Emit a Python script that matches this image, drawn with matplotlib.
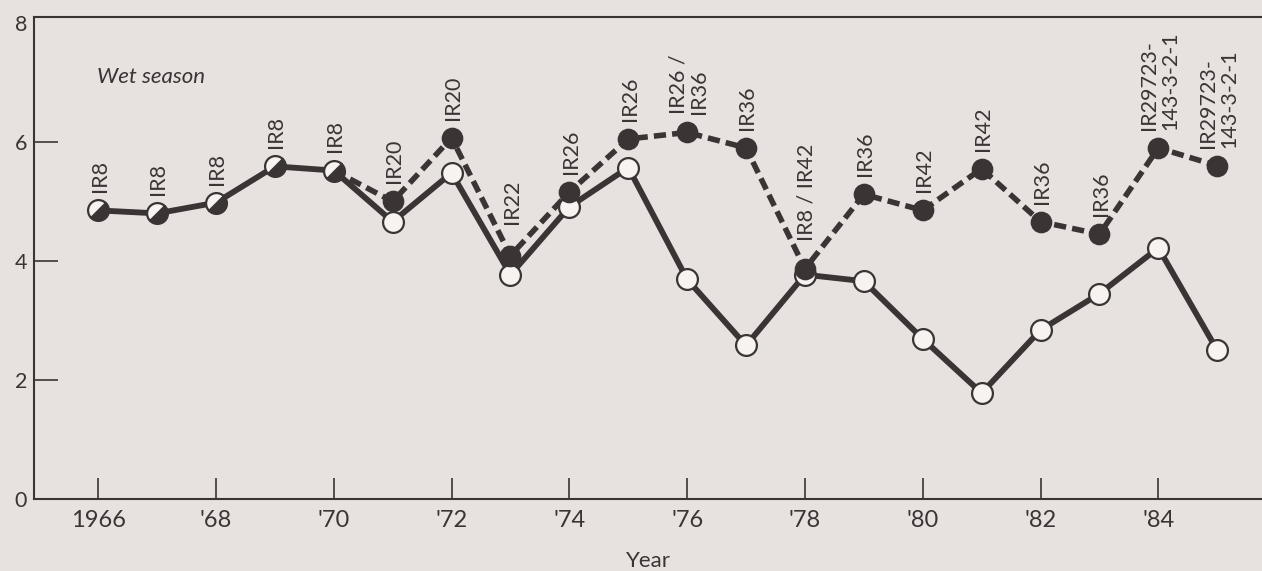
import matplotlib
matplotlib.use("Agg")
import matplotlib.pyplot as plt
from matplotlib.markers import MarkerStyle
from matplotlib.transforms import Affine2D

plt.rcParams['font.family'] = ['Lato', 'DejaVu Sans']

# yields (t/ha), wet season
years = list(range(1966, 1986))
ir8_yield = [4.85, 4.80, 4.98, 5.59, 5.52, 4.66, 5.48, 3.77, 4.91, 5.57,
             3.69, 2.58, 3.77, 3.66, 2.69, 1.78, 2.84, 3.45, 4.22, 2.50]
best_yield = [4.85, 4.80, 4.98, 5.59, 5.52, 5.00, 6.07, 4.09, 5.16, 6.05,
              6.16, 5.90, 3.87, 5.12, 4.85, 5.55, 4.66, 4.45, 5.90, 5.60]
best_variety = ["IR8", "IR8", "IR8", "IR8", "IR8", "IR20", "IR20", "IR22", "IR26", "IR26",
                "IR26 /\nIR36", "IR36", "IR8 / IR42", "IR36", "IR42", "IR42", "IR36", "IR36",
                "IR29723-\n143-3-2-1", "IR29723-\n143-3-2-1"]
tick_years = list(range(1966, 1985, 2))
tick_labels = ["1966", "'68", "'70", "'72", "'74", "'76", "'78", "'80", "'82", "'84"]

ink = "#3a3434"
paper = "#e7e2e0"
white = "#f6f3f1"

fig = plt.figure(figsize=(12.62, 5.71), dpi=100)
fig.patch.set_facecolor(paper)
ax = fig.add_axes([34/1262, 72/571, 1 - 34/1262, (499 - 17)/571])
ax.set_facecolor(paper)

n = len(years)
same = [i for i in range(n) if best_yield[i] == ir8_yield[i]]
diff = [i for i in range(n) if best_yield[i] != ir8_yield[i]]
start = diff[0] - 1

ax.plot(years, ir8_yield, color=ink, lw=4.2, zorder=2)
ax.plot(years[start:], best_yield[start:], color=ink, lw=4.0, dashes=(2.2, 1.1), zorder=2)

half = MarkerStyle('o', fillstyle='bottom', transform=Affine2D().rotate_deg(45))
ax.plot([years[i] for i in same], [ir8_yield[i] for i in same], ls='none', marker=half,
        ms=15, mfc=ink, mfcalt=white, mec=ink, mew=1.6, zorder=4)
ax.plot([years[i] for i in diff], [ir8_yield[i] for i in diff], ls='none', marker='o',
        ms=15, mfc=white, mec=ink, mew=1.6, zorder=4)
ax.plot([years[i] for i in diff], [best_yield[i] for i in diff], ls='none', marker='o',
        ms=14, mfc=ink, mec=ink, mew=1.6, zorder=5)

# a bit more room where the label sits above a crossing line
lift = {1973: 10, 1978: 7}
for yr, y, name in zip(years, best_yield, best_variety):
    ax.annotate(name, (yr, y), xytext=(1, 13 + lift.get(yr, 0)), textcoords='offset points',
                rotation=90, ha='center', va='bottom', multialignment='left',
                fontsize=15.5, color=ink, linespacing=1.05)

ax.text(0.051, 0.876, "Wet season", transform=ax.transAxes, fontsize=16,
        style='italic', color=ink, va='center', ha='left')

ax.set_xlim(1964.91, 1985.76)
ax.set_ylim(0, 8.1)
ax.set_xticks(tick_years)
ax.set_xticklabels(tick_labels)
ax.set_yticks([0, 2, 4, 6, 8])
ax.set_yticklabels(["0", "2", "4", "6", "8"])
ax.tick_params(axis='x', direction='in', length=15, width=1.2, pad=8, labelsize=17,
               colors=ink)
ax.tick_params(axis='y', direction='in', length=17, width=1.2, pad=5, labelsize=15.5,
               colors=ink)
yt = ax.yaxis.get_major_ticks()
yt[0].tick1line.set_visible(False)
yt[-1].tick1line.set_visible(False)

ax.spines['right'].set_visible(False)
for s in ['left', 'top', 'bottom']:
    ax.spines[s].set_linewidth(1.5)
    ax.spines[s].set_color(ink)

ax.set_xlabel("Year", fontsize=16, color=ink, labelpad=14)

fig.savefig("out.png", dpi=100, facecolor=paper)
